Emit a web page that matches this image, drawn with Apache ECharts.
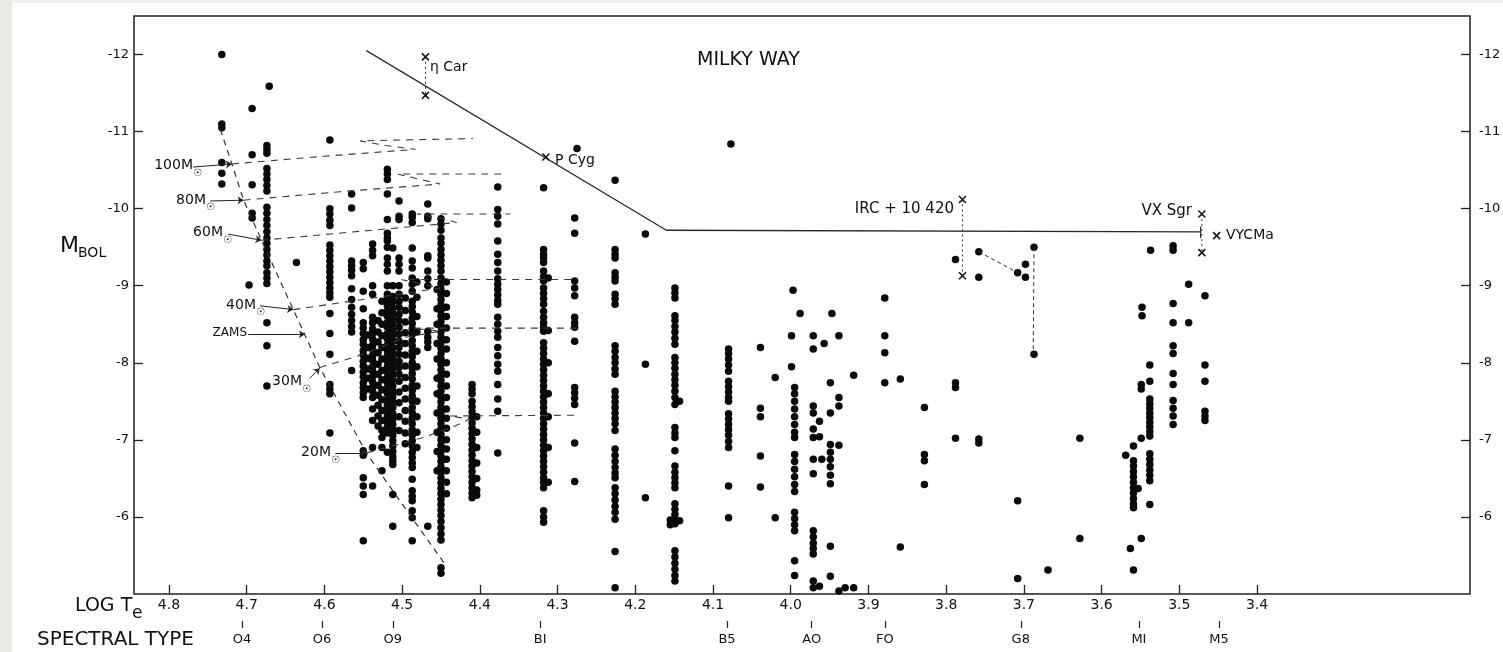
<!DOCTYPE html>
<html>
<head>
<meta charset="utf-8">
<title>Milky Way HR diagram</title>
<script src="https://cdn.jsdelivr.net/npm/echarts@6/dist/echarts.min.js"></script>
<style>
  html, body { margin: 0; padding: 0; background: #fff; }
  #main { width: 1503px; height: 652px; }
</style>
</head>
<body>
<div id="main"></div>
<script>
// axis ticks
var logTTicks = [4.8, 4.7, 4.6, 4.5, 4.4, 4.3, 4.2, 4.1, 4.0, 3.9, 3.8, 3.7, 3.6, 3.5, 3.4];
var mbolTicks = [-12, -11, -10, -9, -8, -7, -6];
var specNames = ['O4', 'O6', 'O9', 'BI', 'B5', 'AO', 'FO', 'G8', 'MI', 'M5'];
var specT = [4.706, 4.603, 4.512, 4.3225, 4.082, 3.973, 3.879, 3.704, 3.552, 3.449];

// stars, as [log Te, list of Mbol] columns
var oStarCols = [
  [4.732, [-12.0, -11.10, -11.05, -10.60, -10.46, -10.32]],
  [4.693, [-11.30, -10.70, -10.31, -9.94, -9.88]],
  [4.697, [-9.01]],
  [4.671, [-11.59]],
  [4.674, [-10.82, -10.77, -10.72, -10.52, -10.45, -10.38, -10.30, -10.23, -10.02, -9.94, -9.86, -9.78, -9.70, -9.62, -9.55, -9.47, -9.40, -9.32, -9.26, -9.17, -9.10, -9.03, -8.52, -8.22, -7.70]],
  [4.636, [-9.30]],
  [4.593, [-10.89, -10.00, -9.93, -9.85, -9.78, -9.53, -9.46, -9.39, -9.32, -9.25, -9.18, -9.11, -9.04, -8.97, -8.91, -8.85, -8.64, -8.38, -8.11, -7.72, -7.66, -7.60, -7.09]],
  [4.565, [-10.19, -10.01, -9.32, -9.26, -9.20, -9.13, -8.96, -8.82, -8.72, -8.63, -8.55, -8.47, -8.40, -7.90]],
  [4.550, [-9.30, -9.22, -8.93, -8.70, -8.52, -8.45, -8.38, -8.30, -8.24, -8.16, -8.10, -8.02, -7.96, -7.88, -7.82, -7.74, -7.68, -7.61, -7.55, -6.86, -6.80, -6.51, -6.40, -6.29, -5.69]],
  [4.544, [-8.36, -8.20, -8.06, -7.92, -7.80, -7.66]],
  [4.538, [-9.54, -9.46, -9.39, -9.00, -8.89, -8.59, -8.52, -8.44, -8.38, -8.31, -8.23, -8.17, -8.09, -8.03, -7.95, -7.89, -7.82, -7.75, -7.68, -7.63, -7.55, -7.40, -7.25, -6.90, -6.40]],
  [4.531, [-8.55, -8.40, -8.27, -8.13, -7.98, -7.85, -7.71, -7.58, -7.45, -7.31, -7.18]],
  [4.526, [-8.80, -8.65, -8.50, -8.35, -8.20, -8.05, -7.90, -7.78, -7.65, -7.52, -7.38, -7.25, -7.12, -7.03, -6.90, -6.60]],
  [4.519, [-10.51, -10.45, -10.38, -10.19, -9.86, -9.68, -9.62, -9.58, -9.50, -9.36, -9.28, -9.19, -9.00, -8.89, -8.82, -8.74, -8.67, -8.60, -8.52, -8.46, -8.38, -8.31, -8.23, -8.16, -8.09, -8.02, -7.95, -7.88, -7.81, -7.74, -7.67, -7.60, -7.52, -7.45, -7.38, -7.31, -7.24, -7.17, -7.09, -6.84]],
  [4.512, [-9.49, -9.00, -8.86, -8.79, -8.71, -8.64, -8.57, -8.50, -8.42, -8.35, -8.28, -8.20, -8.13, -8.06, -7.99, -7.92, -7.85, -7.78, -7.70, -7.63, -7.56, -7.49, -7.42, -7.34, -7.27, -7.20, -7.13, -7.06, -6.99, -6.92, -6.85, -6.78, -6.73, -6.68, -6.29, -5.88]],
  [4.504, [-10.10, -9.90, -9.86, -9.36, -9.28, -9.19, -9.00, -8.89, -8.80, -8.72, -8.63, -8.55, -8.46, -8.37, -8.28, -8.20, -8.11, -8.02, -7.94, -7.85, -7.76, -7.62, -7.48, -7.30, -7.12]],
  [4.496, [-8.84, -8.68, -8.53, -8.39, -8.25, -8.10, -7.96, -7.81, -7.67, -7.53, -7.38, -7.24, -7.09, -6.95]],
  [4.487, [-9.93, -9.89, -9.82, -9.49, -9.32, -9.23, -9.10, -9.02, -8.93, -8.80, -8.73, -8.66, -8.58, -8.51, -8.44, -8.37, -8.29, -8.22, -8.15, -8.08, -8.00, -7.93, -7.86, -7.79, -7.71, -7.64, -7.57, -7.50, -7.42, -7.35, -7.28, -7.21, -7.13, -7.06, -6.99, -6.92, -6.84, -6.77, -6.70, -6.64, -6.49, -6.34, -6.27, -6.21, -6.08, -5.99, -5.69]],
  [4.481, [-9.05, -8.85, -8.60, -8.40, -8.15, -7.95, -7.70, -7.50, -7.30, -7.10, -6.90]],
  [4.467, [-10.06, -9.90, -9.87, -9.39, -9.36, -9.19, -9.09, -9.00, -8.41, -8.33, -8.27, -8.20, -5.88]],
  [4.450, [-9.87, -9.80, -9.72, -9.62, -9.55, -9.47, -9.40, -9.33, -9.26, -9.19, -9.10, -9.03, -8.96, -8.89, -8.82, -8.75, -8.68, -8.61, -8.54, -8.47, -8.40, -8.33, -8.26, -8.19, -8.12, -8.05, -7.98, -7.91, -7.84, -7.77, -7.70, -7.63, -7.56, -7.49, -7.42, -7.35, -7.28, -7.21, -7.14, -7.07, -7.00, -6.93, -6.86, -6.79, -6.72, -6.65, -6.58, -6.51, -6.44, -6.37, -6.30, -6.23, -6.16, -6.09, -6.02, -5.94, -5.86, -5.78, -5.70, -5.34, -5.27]],
  [4.443, [-9.05, -8.90, -8.72, -8.60, -8.45, -8.30, -8.18, -8.00, -7.85, -7.70, -7.55, -7.40, -7.28, -7.15, -7.00, -6.88, -6.75, -6.60, -6.45, -6.30]],
  [4.455, [-8.95, -8.70, -8.50, -8.25, -8.05, -7.80, -7.60, -7.35, -7.10, -6.85, -6.60]],
  [4.410, [-7.72, -7.66, -7.60, -7.50, -7.43, -7.36, -7.29, -7.22, -7.15, -7.08, -7.01, -6.94, -6.87, -6.80, -6.73, -6.66, -6.59, -6.52, -6.45, -6.38, -6.31, -6.25]],
  [4.404, [-7.30, -7.10, -6.90, -6.70, -6.50, -6.35, -6.28]],
  [4.377, [-10.28, -9.99, -9.90, -9.80, -9.58, -9.41, -9.30, -9.19, -9.09, -9.02, -8.95, -8.88, -8.81, -8.76, -8.59, -8.50, -8.41, -8.33, -8.20, -8.09, -7.98, -7.89, -7.72, -7.53, -7.37, -6.83]]
];

var bStarCols = [
  [4.318, [-10.27, -9.47, -9.41, -9.36, -9.30, -9.19, -9.12, -9.06, -8.97, -8.90, -8.83, -8.76, -8.67, -8.59, -8.52, -8.46, -8.41, -8.26, -8.19, -8.12, -8.05, -7.98, -7.91, -7.84, -7.77, -7.70, -7.63, -7.56, -7.49, -7.42, -7.35, -7.28, -7.21, -7.14, -7.07, -7.00, -6.93, -6.86, -6.79, -6.72, -6.65, -6.58, -6.51, -6.45, -6.38, -6.08, -6.00, -5.93]],
  [4.312, [-9.10, -8.42, -8.00, -7.60, -7.30, -6.90, -6.45]],
  [4.275, [-10.78]],
  [4.278, [-9.88, -9.68, -9.06, -8.97, -8.87, -8.59, -8.52, -8.46, -8.28, -7.68, -7.61, -7.54, -7.46, -6.96, -6.46]],
  [4.226, [-10.37, -9.47, -9.41, -9.36, -9.17, -9.11, -9.06, -8.89, -8.83, -8.76, -8.22, -8.15, -8.07, -8.00, -7.92, -7.85, -7.63, -7.56, -7.49, -7.42, -7.35, -7.28, -7.21, -7.12, -6.88, -6.80, -6.72, -6.64, -6.57, -6.51, -6.38, -6.30, -6.22, -6.14, -6.06, -5.97, -5.55, -5.08]],
  [4.187, [-9.67, -7.98, -6.25]],
  [4.149, [-8.97, -8.91, -8.84, -8.61, -8.55, -8.47, -8.40, -8.32, -8.24, -8.07, -8.00, -7.93, -7.85, -7.78, -7.71, -7.63, -7.55, -7.46, -7.16, -7.09, -7.03, -6.86, -6.66, -6.58, -6.51, -6.44, -6.38, -6.17, -6.10, -6.03, -5.97, -5.93, -5.91, -5.56, -5.48, -5.40, -5.32, -5.24, -5.17]],
  [4.155, [-5.96, -5.90]],
  [4.143, [-5.95, -7.50]],
  [4.077, [-10.84]],
  [4.080, [-8.18, -8.12, -8.05, -7.97, -7.89, -7.76, -7.69, -7.62, -7.55, -7.50, -7.34, -7.27, -7.20, -7.13, -7.06, -6.98, -6.90, -6.40, -5.99]]
];

var afStarCols = [
  [4.039, [-8.20, -7.41, -7.30, -6.79, -6.39]],
  [4.020, [-7.81, -5.99]],
  [3.999, [-8.35, -7.95]],
  [3.997, [-8.94]],
  [3.988, [-8.64]],
  [3.995, [-7.68, -7.60, -7.50, -7.40, -7.30, -7.20, -7.10, -7.03, -6.81, -6.72, -6.62, -6.52, -6.42, -6.33, -6.06, -5.98, -5.90, -5.82, -5.43, -5.24]],
  [3.971, [-8.35, -8.18, -7.44, -7.35, -7.14, -7.03, -6.75, -6.56, -5.82, -5.74, -5.66, -5.59, -5.52, -5.17, -5.08]],
  [3.963, [-5.10, -7.24, -7.04]],
  [3.957, [-8.25]],
  [3.938, [-8.35, -7.55, -7.44, -6.93, -5.04]],
  [3.947, [-8.64]],
  [3.949, [-7.74, -7.35, -6.94, -6.84, -6.75, -6.65, -6.54, -6.43, -5.62, -5.23]],
  [3.960, [-6.75]],
  [3.930, [-5.08]],
  [3.919, [-7.84, -5.08]],
  [3.879, [-8.84, -8.35, -8.13, -7.74]],
  [3.859, [-7.79, -5.61]],
  [3.828, [-7.42, -6.81, -6.73, -6.42]]
];

var gmStarCols = [
  [3.788, [-9.34, -7.74, -7.68, -7.02]],
  [3.758, [-9.44, -9.11, -7.01, -6.96]],
  [3.708, [-9.17, -6.21, -5.20]],
  [3.698, [-9.28, -9.11]],
  [3.687, [-9.50, -8.11]],
  [3.669, [-5.31]],
  [3.628, [-7.02, -5.72]],
  [3.563, [-5.59]],
  [3.559, [-6.92, -6.73, -6.66, -6.59, -6.52, -6.45, -6.38, -6.31, -6.24, -6.17, -6.12, -5.31]],
  [3.569, [-6.80]],
  [3.553, [-6.37]],
  [3.549, [-7.72, -7.66, -7.02, -5.72]],
  [3.548, [-8.72, -8.61]],
  [3.538, [-7.97, -7.76, -7.53, -7.47, -7.41, -7.35, -7.29, -7.23, -7.17, -7.11, -7.05, -6.82, -6.75, -6.68, -6.61, -6.54, -6.47, -6.16]],
  [3.537, [-9.46]],
  [3.508, [-9.52, -9.46, -8.77, -8.52, -8.22, -8.12, -7.86, -7.72, -7.51, -7.41, -7.31, -7.20]],
  [3.488, [-9.02, -8.52]],
  [3.467, [-8.87, -7.97, -7.76, -7.37, -7.31, -7.25]]
];

// named stars (crosses)
var etaCar = [[4.47, -11.97], [4.47, -11.47]];
var pCyg = [[4.315, -10.67]];
var irc10420 = [[3.779, -10.12], [3.779, -9.13]];
var vxSgr = [[3.471, -9.93], [3.471, -9.43]];
var vyCma = [[3.452, -9.65]];

// upper luminosity boundary
var limitLine = [[4.546, -12.05], [4.160, -9.72], [3.4726, -9.70]];
var limitEnd = [[3.4726, -9.77], [3.4726, -9.62]];

// ZAMS and evolutionary tracks
var zams = [[4.734, -11.03], [4.719, -10.58], [4.704, -10.11], [4.681, -9.59], [4.640, -8.69], [4.606, -7.94], [4.546, -6.83], [4.503, -6.21], [4.443, -5.36]];
var track100 = [[4.719, -10.58], [4.60, -10.68], [4.483, -10.77], [4.522, -10.82], [4.554, -10.88], [4.409, -10.91]];
var track80 = [[4.704, -10.11], [4.58, -10.22], [4.451, -10.32], [4.477, -10.38], [4.506, -10.45], [4.365, -10.45]];
var track60 = [[4.681, -9.59], [4.55, -9.71], [4.430, -9.82], [4.447, -9.87], [4.481, -9.93], [4.361, -9.93]];
var track40 = [[4.640, -8.69], [4.538, -8.84], [4.477, -8.93], [4.451, -8.97], [4.501, -9.08], [4.278, -9.08]];
var track30 = [[4.606, -7.94], [4.550, -8.11], [4.496, -8.33], [4.451, -8.41], [4.487, -8.45], [4.271, -8.45]];
var track20 = [[4.546, -6.83], [4.473, -7.03], [4.432, -7.18], [4.413, -7.27], [4.439, -7.31], [4.271, -7.32]];

// hypergiant links
var yhgLink = [[3.758, -9.44], [3.708, -9.17]];
var yhgDrop = [[3.687, -9.50], [3.688, -8.11]];

// label leaders [from, to]
var leaders = [
  [[4.769, -10.54], [4.719, -10.58]],
  [[4.747, -10.10], [4.704, -10.11]],
  [[4.724, -9.67], [4.681, -9.59]],
  [[4.683, -8.74], [4.640, -8.69]],
  [[4.698, -8.37], [4.625, -8.37]],
  [[4.619, -7.80], [4.606, -7.93]],
  [[4.586, -6.83], [4.546, -6.83]]
];

function flatten(cols) {
  var out = [];
  cols.forEach(function (c) {
    c[1].forEach(function (m) { out.push([c[0], m]); });
  });
  return out;
}

var stars = flatten(oStarCols).concat(flatten(bStarCols), flatten(afStarCols), flatten(gmStarCols));

var FONT = '"DejaVu Sans", sans-serif';
var INK = '#111';

function txt(x, y, s, size, align) {
  return {
    type: 'text', x: x, y: y, silent: true, z: 10,
    style: {
      text: s, font: size + 'px ' + FONT, fill: INK,
      align: align || 'left', verticalAlign: 'middle',
      textAlign: align || 'left', textVerticalAlign: 'middle'
    }
  };
}

function dashed(data, dash, color, width) {
  return {
    type: 'line', data: data, symbol: 'none', silent: true, animation: false,
    lineStyle: { type: dash, color: color, width: width, opacity: 1 }
  };
}

var crossPath = 'path://M0,0L10,10M10,0L0,10';
function crosses(data) {
  return {
    type: 'scatter', data: data, symbol: crossPath, symbolSize: 7, silent: true, animation: false,
    itemStyle: { color: 'transparent', borderColor: INK, borderWidth: 1.5, opacity: 1 }
  };
}

function tickAxis(pos) {
  return {
    type: 'value', position: pos, min: -12.5, max: -5, inverse: true,
    axisLine: { show: false }, splitLine: { show: false },
    axisTick: { show: true, inside: true, length: 9, customValues: mbolTicks, lineStyle: { color: '#222', width: 1.3 } },
    axisLabel: {
      customValues: mbolTicks, margin: pos === 'left' ? 5 : 9, fontSize: 13, color: INK, fontFamily: FONT,
      formatter: function (v) { return '-' + Math.abs(v); }
    }
  };
}

var chart = echarts.init(document.getElementById('main'), null, { renderer: 'canvas' });

var option = {
  backgroundColor: '#fff',
  animation: false,
  grid: {
    left: 134, right: 33, top: 16, bottom: 58,
    show: true, borderColor: '#222', borderWidth: 1.5, backgroundColor: 'transparent',
    containLabel: false, outerBoundsMode: 'none'
  },
  xAxis: [
    {
      type: 'value', min: 3.126, max: 4.845, inverse: true, position: 'bottom',
      axisLine: { show: false }, splitLine: { show: false },
      axisTick: { show: true, inside: true, length: 9, customValues: logTTicks, lineStyle: { color: '#222', width: 1.3 } },
      axisLabel: {
        customValues: logTTicks, margin: 4, fontSize: 14, color: INK, fontFamily: FONT,
        formatter: function (v) { return v.toFixed(1); }
      }
    },
    {
      type: 'value', min: 3.126, max: 4.845, inverse: true, position: 'bottom', offset: 27,
      axisLine: { show: false }, splitLine: { show: false },
      axisTick: { show: true, inside: false, length: 7, customValues: specT, lineStyle: { color: '#222', width: 1.2 } },
      axisLabel: {
        customValues: specT, margin: 12, fontSize: 13, color: INK, fontFamily: FONT,
        formatter: function (v) {
          var best = 0;
          specT.forEach(function (t, i) { if (Math.abs(t - v) < Math.abs(specT[best] - v)) best = i; });
          return specNames[best];
        }
      }
    }
  ],
  yAxis: [tickAxis('left'), tickAxis('right')],
  series: [
    dashed(zams, [6, 5], '#333', 1.2),
    dashed(track100, [7, 6], '#3a3a3a', 1.1),
    dashed(track80, [7, 6], '#3a3a3a', 1.1),
    dashed(track60, [7, 6], '#3a3a3a', 1.1),
    dashed(track40, [7, 6], '#3a3a3a', 1.1),
    dashed(track30, [7, 6], '#3a3a3a', 1.1),
    dashed(track20, [7, 6], '#3a3a3a', 1.1),
    dashed(limitLine, 'solid', '#2a2a2a', 1.3),
    dashed(limitEnd, 'solid', '#2a2a2a', 1.2),
    dashed(etaCar, [2, 3], '#333', 1),
    dashed(irc10420, [2, 3], '#333', 1),
    dashed(vxSgr, [2, 3], '#333', 1),
    dashed(yhgLink, [4, 3], '#333', 1),
    dashed(yhgDrop, [4, 3], '#333', 1),
    {
      type: 'scatter', data: stars, symbol: 'circle', symbolSize: 7.5, silent: true, animation: false,
      itemStyle: { color: '#0a0a0a', opacity: 1 }
    },
    crosses(etaCar),
    crosses(pCyg),
    crosses(irc10420),
    crosses(vxSgr),
    Object.assign(crosses(vyCma), {
      markLine: {
        silent: true, animation: false, symbol: ['none', 'arrow'], symbolSize: 6,
        lineStyle: { type: 'solid', color: '#222', width: 1, opacity: 1 },
        label: { show: false },
        data: leaders.map(function (l) { return [{ coord: l[0] }, { coord: l[1] }]; })
      }
    })
  ],
  graphic: [
    { type: 'rect', shape: { x: 0, y: 0, width: 12, height: 652 }, style: { fill: '#ece9e2' }, silent: true },
    { type: 'rect', shape: { x: 12, y: 0, width: 1491, height: 3 }, style: { fill: '#f1f1f1' }, silent: true },
    txt(697, 60, 'MILKY WAY', 19),
    txt(60, 246, 'M', 22),
    txt(78, 253, 'BOL', 14),
    txt(75, 606, 'LOG T', 19),
    txt(132, 614, 'e', 17),
    txt(37, 640, 'SPECTRAL TYPE', 20),
    txt(193, 165, '100M', 14, 'right'), txt(193, 173, '\u2609', 10),
    txt(206, 200, '80M', 14, 'right'), txt(206, 207, '\u2609', 10),
    txt(223, 232, '60M', 14, 'right'), txt(223, 240, '\u2609', 10),
    txt(256, 305, '40M', 14, 'right'), txt(256, 312, '\u2609', 10),
    txt(247, 333, 'ZAMS', 12, 'right'),
    txt(302, 381, '30M', 14, 'right'), txt(302, 389, '\u2609', 10),
    txt(331, 452, '20M', 14, 'right'), txt(331, 460, '\u2609', 10),
    txt(430, 67, '\u03b7 Car', 14),
    txt(555, 160, 'P Cyg', 14),
    txt(954, 209, 'IRC + 10 420', 15, 'right'),
    txt(1192, 211, 'VX Sgr', 15, 'right'),
    txt(1226, 235, 'VYCMa', 14)
  ]
};

chart.setOption(option);
</script>
</body>
</html>
